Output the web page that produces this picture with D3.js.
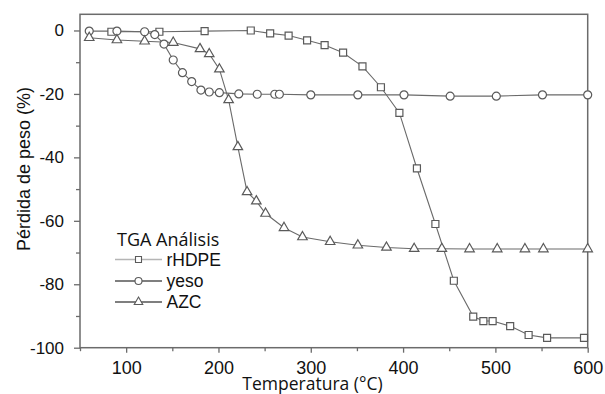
<!DOCTYPE html>
<html>
<head>
<meta charset="utf-8">
<script src="https://cdn.jsdelivr.net/npm/d3@7"></script>
<style>
  html, body { margin: 0; padding: 0; background: #fff; }
  svg { display: block; }
</style>
</head>
<body>
<svg id="chart" width="605" height="394"></svg>
<script>
// ---- data ----
const rhdpeT = [84, 136, 185, 235, 256, 276, 296, 315, 335, 356, 376, 396, 415, 435, 455, 476, 487, 497, 516, 536, 556, 596];
const rhdpeW = [-0.4, -0.4, -0.2, 0, -0.9, -1.6, -3.1, -4.6, -7.0, -11.3, -17.9, -26.0, -43.5, -61.0, -78.9, -90.2, -91.6, -91.6, -93.2, -96.0, -96.9, -96.9];

const yesoT = [60, 90, 120, 131, 141, 151, 161, 171, 181, 190, 201, 222, 242, 261, 266, 300, 351, 401, 451, 501, 551, 600];
const yesoW = [-0.2, -0.2, -0.4, -1.3, -4.3, -9.3, -13.3, -16.1, -18.8, -19.4, -19.6, -20.0, -20.1, -20.1, -20.1, -20.3, -20.3, -20.3, -20.7, -20.7, -20.3, -20.3];

const azcT = [60, 90, 120, 151, 180, 190, 201, 211, 221, 231, 241, 251, 271, 291, 321, 351, 382, 412, 442, 472, 502, 532, 552, 600];
const azcW = [-2.3, -3.0, -3.4, -3.8, -5.8, -7.4, -12.2, -21.9, -36.7, -50.9, -53.8, -57.7, -62.2, -65.1, -66.6, -67.7, -68.4, -68.8, -68.8, -68.9, -68.9, -68.9, -68.9, -68.9];

const seriesNames = ["rHDPE", "yeso", "AZC"];
const xTicks = [100, 200, 300, 400, 500, 600];
const xMinor = [50, 150, 250, 350, 450, 550];
const yTicks = [0, -20, -40, -60, -80, -100];
const yMinor = [-10, -30, -50, -70, -90];
const legendTitle = "TGA Análisis";
const xLabel = "Temperatura (°C)";
const yLabel = "Pérdida de peso (%)";

// ---- layout ----
const svg = d3.select("#chart");
const L = 80, R = 587.7, T = 14.3, B = 347.7;
const x = d3.scaleLinear().domain([50, 600]).range([L, R]);
const y = d3.scaleLinear().domain([-100, 5.1]).range([B, T]);

const axisCol = "#6b6b6b";
const lineCol = "#6a6a6a";
const markCol = "#5a5a5a";

function markerPath(type, s) {
  if (type === "square") {
    const h = s / 2;
    return `M${-h},${-h}H${h}V${h}H${-h}Z`;
  }
  if (type === "circle") {
    const r = s / 2;
    return `M${r},0A${r},${r} 0 1,1 ${-r},0A${r},${r} 0 1,1 ${r},0Z`;
  }
  const hgt = s * Math.sqrt(3) / 2;
  return `M0,${-hgt * 2 / 3}L${s / 2},${hgt / 3}L${-s / 2},${hgt / 3}Z`;
}

const series = [
  { name: seriesNames[0], t: rhdpeT, w: rhdpeW, type: "square", size: 7 },
  { name: seriesNames[1], t: yesoT, w: yesoW, type: "circle", size: 8 },
  { name: seriesNames[2], t: azcT, w: azcW, type: "triangle", size: 9.5 }
];

// ---- axes ----
const fmt = d => String(d);
const gx = svg.append("g").attr("transform", `translate(0,${B})`)
  .call(d3.axisBottom(x).tickValues(xTicks).tickSize(5).tickSizeOuter(0).tickPadding(8.5).tickFormat(fmt));
gx.selectAll("text").attr("font-family", "'Liberation Sans', Arial, sans-serif").attr("font-size", 18).attr("fill", "#111");
svg.append("g").attr("transform", `translate(0,${B})`)
  .call(d3.axisBottom(x).tickValues(xMinor).tickSize(3.5).tickSizeOuter(0).tickFormat(""));

const gy = svg.append("g").attr("transform", `translate(${L},0)`)
  .call(d3.axisLeft(y).tickValues(yTicks).tickSize(6).tickSizeOuter(0).tickPadding(10).tickFormat(fmt));
gy.selectAll("text").attr("font-family", "'Liberation Sans', Arial, sans-serif").attr("font-size", 17).attr("fill", "#111");
svg.append("g").attr("transform", `translate(${L},0)`)
  .call(d3.axisLeft(y).tickValues(yMinor).tickSize(4).tickSizeOuter(0).tickFormat(""));

svg.selectAll(".domain").remove();
svg.selectAll(".tick line").attr("stroke", axisCol).attr("stroke-width", 1.3);

// frame
svg.append("rect").attr("x", L).attr("y", T).attr("width", R - L).attr("height", B - T)
  .attr("fill", "none").attr("stroke", axisCol).attr("stroke-width", 1.5);

// ---- series ----
const line = d3.line().x(d => x(d[0])).y(d => y(d[1]));
series.forEach(s => {
  const pts = s.t.map((t, i) => [t, s.w[i]]);
  svg.append("path").datum(pts).attr("d", line)
    .attr("fill", "none").attr("stroke", lineCol).attr("stroke-width", 1.1);
});
series.forEach(s => {
  const pts = s.t.map((t, i) => [t, s.w[i]]);
  svg.append("g").selectAll("path").data(pts).join("path")
    .attr("transform", d => `translate(${x(d[0])},${y(d[1])})`)
    .attr("d", markerPath(s.type, s.size))
    .attr("fill", "#fff").attr("stroke", markCol).attr("stroke-width", 1.2);
});

// ---- legend ----
const lg = svg.append("g");
lg.append("text").attr("x", 117).attr("y", 245.7).text(legendTitle)
  .attr("font-family", "'Open Sans', sans-serif").attr("font-size", 18).attr("fill", "#111");
const legY = [259.5, 281, 302];
const legLineCols = ["#b5b5b5", "#555", "#555"];
const legSizes = [6, 7, 8.5];
series.forEach((s, i) => {
  const yy = legY[i];
  lg.append("line").attr("x1", 115).attr("x2", 162).attr("y1", yy).attr("y2", yy)
    .attr("stroke", legLineCols[i]).attr("stroke-width", 1.3);
  lg.append("path").attr("transform", `translate(138.5,${yy})`)
    .attr("d", markerPath(s.type, legSizes[i]))
    .attr("fill", "#fff").attr("stroke", markCol).attr("stroke-width", 1.1);
  lg.append("text").attr("x", 166.5).attr("y", yy + 6).text(s.name)
    .attr("font-family", "'Liberation Sans', Arial, sans-serif").attr("font-size", 17.5).attr("fill", "#111");
});

// ---- axis titles ----
svg.append("text").attr("x", 312.5).attr("y", 390).attr("text-anchor", "middle").text(xLabel)
  .attr("font-family", "'Open Sans', sans-serif").attr("font-size", 17.5).attr("fill", "#111");
svg.append("text").attr("transform", "translate(30,169) rotate(-90)").attr("text-anchor", "middle").text(yLabel)
  .attr("font-family", "'Liberation Sans', Arial, sans-serif").attr("font-size", 18).attr("fill", "#111");
</script>
</body>
</html>
